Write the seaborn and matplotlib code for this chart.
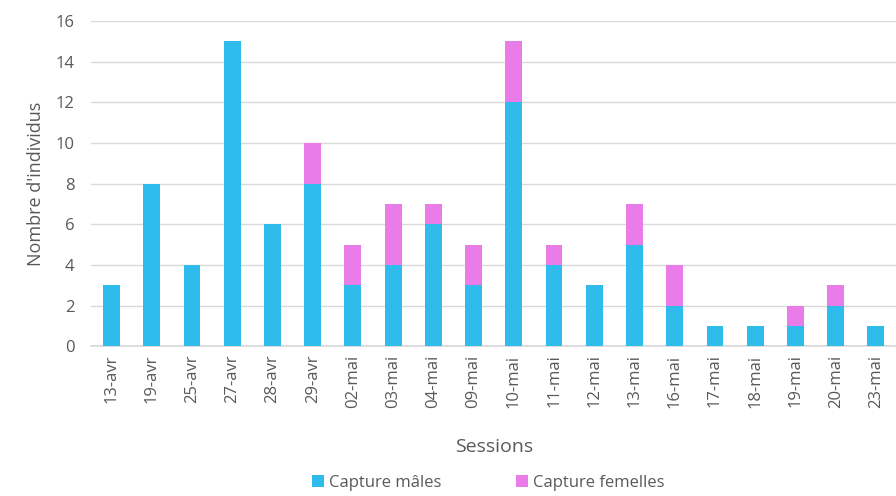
import matplotlib
matplotlib.use("Agg")
import matplotlib.pyplot as plt
import seaborn as sns
import pandas as pd

sessions = ['13-avr', '19-avr', '25-avr', '27-avr', '28-avr', '29-avr',
            '02-mai', '03-mai', '04-mai', '09-mai', '10-mai', '11-mai',
            '12-mai', '13-mai', '16-mai', '17-mai', '18-mai', '19-mai',
            '20-mai', '23-mai']
males = [3, 8, 4, 15, 6, 8, 3, 4, 6, 3, 12, 4, 3, 5, 2, 1, 1, 1, 2, 1]
femelles = [0, 0, 0, 0, 0, 2, 2, 3, 1, 2, 3, 1, 0, 2, 2, 0, 0, 1, 1, 0]

df = pd.DataFrame({'session': sessions, 'males': males, 'femelles': femelles})
df['total'] = df['males'] + df['femelles']

sns.set_theme(style="white")
plt.rcParams['font.family'] = ['Open Sans', 'DejaVu Sans']

blue = '#2FBBEB'
pink = '#E97CE8'
grey = '#595959'

fig = plt.figure(figsize=(8.96, 4.96), dpi=100)
ax = fig.add_axes([0.102, 0.302, 0.898, 0.656])

# stacked look: totals in pink, males drawn over them
sns.barplot(data=df, x='session', y='total', order=sessions, color=pink,
            width=0.42, saturation=1, ax=ax, label='Capture femelles',
            linewidth=0, zorder=2)
sns.barplot(data=df, x='session', y='males', order=sessions, color=blue,
            width=0.42, saturation=1, ax=ax, label='Capture mâles',
            linewidth=0, zorder=3)

ax.set_ylim(0, 16)
ax.set_yticks(range(0, 17, 2))
ax.set_xlim(-0.5, len(sessions) - 0.5)
ax.yaxis.grid(True, color='#D9D9D9', linewidth=1)
ax.set_axisbelow(True)
for s in ['top', 'right', 'left']:
    ax.spines[s].set_visible(False)
ax.spines['bottom'].set_color('#D9D9D9')

ax.tick_params(axis='x', rotation=90, labelsize=12, colors=grey, length=0, pad=6)
ax.tick_params(axis='y', labelsize=12, colors=grey, length=0, pad=12)
ax.set_xlabel('Sessions', fontsize=14, color=grey, labelpad=22)
ax.set_ylabel("Nombre d'individus", fontsize=13, color=grey, labelpad=8)

handles, labels = ax.get_legend_handles_labels()
if ax.get_legend() is not None:
    ax.get_legend().remove()
fig.legend(handles[::-1], labels[::-1], loc='center', bbox_to_anchor=(0.545, 0.026),
           ncol=2, frameon=False, fontsize=12, labelcolor=grey,
           handlelength=0.7, handleheight=0.7, columnspacing=4.5, handletextpad=0.3)

fig.savefig('out.png', dpi=100)
